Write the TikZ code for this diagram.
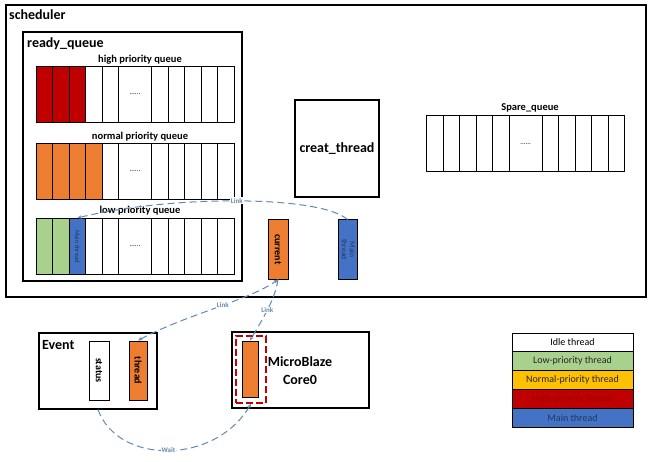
\documentclass[tikz,border=0pt]{standalone}
\usepackage{fontspec}
\setmainfont{Carlito}
\usetikzlibrary{arrows.meta}
\definecolor{hired}{RGB}{192,0,0}
\definecolor{nor}{RGB}{237,125,49}
\definecolor{lowgreen}{RGB}{169,209,142}
\definecolor{mainblue}{RGB}{68,114,196}
\definecolor{gold}{RGB}{255,192,0}
\definecolor{linkc}{RGB}{96,138,178}
\definecolor{navy}{RGB}{31,56,100}
\definecolor{darkred}{RGB}{150,0,0}
\tikzset{
 tbox/.style={draw=black, line width=1.2pt, fill=white, inner sep=0pt},
 qcell/.style={draw=black, line width=1pt, inner sep=0pt, minimum height=56, font=\fontsize{7}{8}\selectfont},
 slot/.style={draw=black, line width=1pt, inner sep=0pt, minimum height=59},
 ttl/.style={font=\fontsize{14}{16}\selectfont\bfseries, inner sep=0pt},
 qlab/.style={font=\fontsize{10.5}{12}\selectfont\bfseries, inner sep=0pt},
 lnk/.style={draw=linkc, line width=1pt, dash pattern=on 7pt off 4pt, >={Stealth[length=4.5pt,width=3.5pt]}},
 lnklab/.style={font=\fontsize{7}{8}\selectfont\bfseries, text=linkc, fill=white, inner sep=1pt},
 legrow/.style={draw=black, line width=1pt, minimum width=121, minimum height=18.8, inner sep=0pt, font=\fontsize{10}{12}\selectfont}
}
\newcommand\drawqueue[6]{%
  \foreach \k/\cx/\w in {1/8.25/16.5,2/24.75/16.5,3/41.25/16.5,4/57.75/16.5,5/74.25/16.5,6/99/33,7/123.75/16.5,8/140.25/16.5,9/156.75/16.5,10/173.25/16.5,11/189.75/16.5}{%
    \ifnum\k>#4 \def\fc{white}\else\def\fc{#5}\fi
    \def\txt{}%
    \ifnum\k=#6 \def\fc{mainblue}\def\txt{\rotatebox{-90}{\fontsize{6.5}{7}\selectfont\color{navy}Main thread}}\fi
    \ifnum\k=6 \def\txt{......}\fi
    \node[qcell, minimum width=\w, fill=\fc] (#1-\k) at ({#2+\cx},#3) {\txt};
  }%
}
\begin{document}
\begin{tikzpicture}[x=1pt,y=-1pt]
\useasboundingbox (0,0) rectangle (650,462);
% scheduler
\node[tbox, minimum width=640, minimum height=292] (sched) at (326,151) {};
\node[ttl, anchor=west] (schedlab) at (9,15) {scheduler};
% ready queue
\node[tbox, minimum width=219, minimum height=249] (ready) at (132.5,156.5) {};
\node[ttl, anchor=west] (readylab) at (27,44) {ready\_queue};
\node[qlab] (hqlab) at (140,60) {high priority queue};
\drawqueue{hq}{36}{94.5}{3}{hired}{0}
\node[qlab] (nqlab) at (140,137) {normal priority queue};
\drawqueue{nq}{36}{171.5}{4}{nor}{0}
\node[qlab] (lqlab) at (140,211) {low priority queue};
\drawqueue{lq}{36}{246.5}{2}{lowgreen}{3}
% creat thread
\node[tbox, minimum width=84, minimum height=97, font=\fontsize{14}{16}\selectfont\bfseries] (creat) at (337,148.5) {creat\_thread};
% spare queue
\node[qlab] (sqlab) at (530,108) {Spare\_queue};
\drawqueue{sq}{426.7}{144}{0}{white}{0}
% current & main thread
\node[slot, fill=nor, minimum width=20] (cur) at (278,249.5) {\rotatebox{-90}{\fontsize{10}{12}\selectfont\bfseries current}};
\node[slot, fill=mainblue, minimum width=19] (mainR) at (347.5,249.5) {\rotatebox{-90}{\fontsize{7.5}{8}\selectfont\color{navy}\begin{tabular}{@{}c@{}}Main\\thread\end{tabular}}};
% Event
\node[tbox, minimum width=118, minimum height=76] (event) at (98,371) {};
\node[ttl, anchor=west] (eventlab) at (42,345) {Event};
\node[slot, fill=white, minimum width=20] (status) at (99,370.5) {\rotatebox{-90}{\fontsize{10}{12}\selectfont\bfseries status}};
\node[slot, fill=nor, minimum width=18] (ethread) at (138,370.5) {\rotatebox{-90}{\fontsize{10}{12}\selectfont\bfseries thread}};
% MicroBlaze
\node[tbox, minimum width=137, minimum height=76] (mb) at (300.5,370) {};
\node[font=\fontsize{14}{18}\selectfont\bfseries, align=center, inner sep=0pt] (mblab) at (300,371) {MicroBlaze\\Core0};
\node[draw=black, line width=1pt, fill=nor, minimum width=16, minimum height=56, inner sep=0pt] (core) at (250,369) {};
\node[draw=hired, line width=1.5pt, dash pattern=on 7pt off 3pt, minimum width=30, minimum height=67, inner sep=0pt] (coreframe) at (251,369.5) {};
% legend
\node[legrow, fill=white] (lg1) at (572.5,342.4) {Idle thread};
\node[legrow, fill=lowgreen, text=black!85] (lg2) at (572.5,361.2) {Low-priority thread};
\node[legrow, fill=gold, text=black!85] (lg3) at (572.5,380) {Normal-priority thread};
\node[legrow, fill=hired, text=darkred] (lg4) at (572.5,398.8) {High-priority thread};
\node[legrow, fill=mainblue, text=navy] (lg5) at (572.5,417.6) {Main thread};
% connectors
\draw[lnk, ->] (mainR.north) .. controls (320,195) and (170,195) .. node[lnklab] {Link} (lq-3.north);
\draw[lnk, <->] (ethread.north) .. controls (185,315) and (250,300) .. node[lnklab, pos=0.55] {Link} (cur.south);
\draw[lnk, ->] (cur.south) .. controls (275,300) and (262,320) .. node[lnklab] {Link} (core.north);
\draw[lnk, ->] (event.south) .. controls (118,465) and (215,465) .. node[lnklab] {Wait} (coreframe.south);
\end{tikzpicture}
\end{document}
